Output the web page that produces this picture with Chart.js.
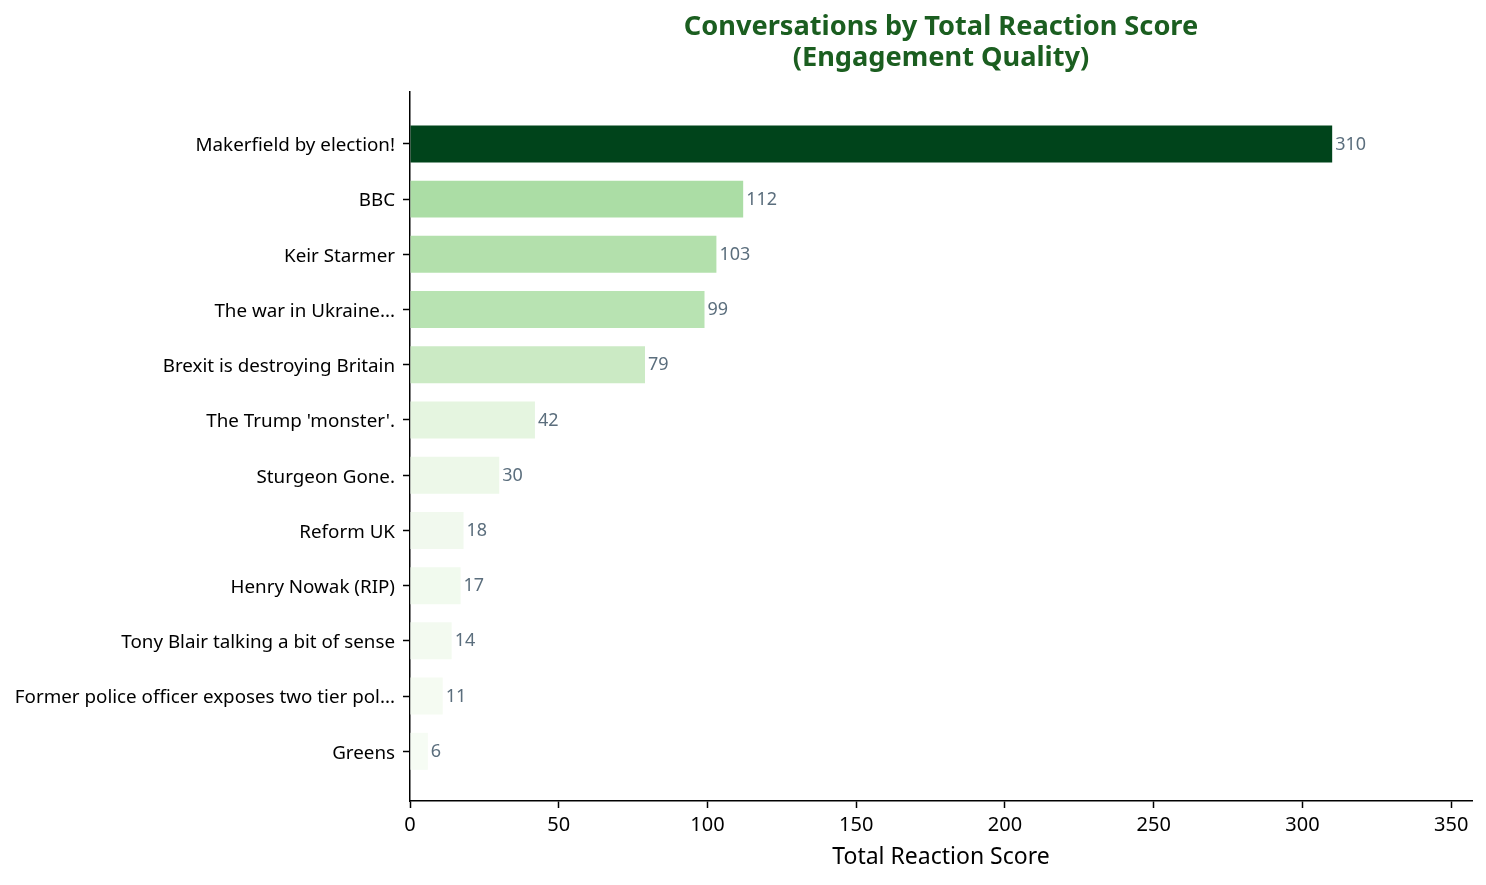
<!DOCTYPE html>
<html>
<head>
<meta charset="utf-8">
<script src="https://cdn.jsdelivr.net/npm/chart.js@4"></script>
<style>
  html, body { margin: 0; padding: 0; background: #fff; }
  #wrap { width: 1486px; height: 885px; }
</style>
</head>
<body>
<div id="wrap"><canvas id="reactionChart" width="1486" height="885"></canvas></div>
<script>
const topics = [
  "Makerfield by election!",
  "BBC",
  "Keir Starmer",
  "The war in Ukraine...",
  "Brexit is destroying Britain",
  "The Trump 'monster'.",
  "Sturgeon Gone.",
  "Reform UK",
  "Henry Nowak (RIP)",
  "Tony Blair talking a bit of sense",
  "Former police officer exposes two tier pol...",
  "Greens",
];
const scores = [310, 112, 103, 99, 79, 42, 30, 18, 17, 14, 11, 6];
const xTicks = [0, 50, 100, 150, 200, 250, 300, 350];
const titleLines = ["Conversations by Total Reaction Score", "(Engagement Quality)"];

const barColors = [
  "#00441b", "#abdda5", "#b3e0ac", "#b8e3b2", "#cbeac4", "#e5f5e0",
  "#edf8e9", "#f1f9ee", "#f1faee", "#f3faf0", "#f5fbf2", "#f6fcf4",
];

const FONT = "'Noto Sans', 'Open Sans', sans-serif";

// numbers at the end of each bar
const valueLabels = {
  id: "valueLabels",
  afterDatasetsDraw(chart) {
    const ctx = chart.ctx;
    const meta = chart.getDatasetMeta(0);
    ctx.save();
    ctx.font = "18px " + FONT;
    ctx.fillStyle = "#5b6e7d";
    ctx.textAlign = "left";
    ctx.textBaseline = "middle";
    meta.data.forEach((bar, i) => {
      ctx.fillText(String(scores[i]), bar.x + 3, bar.y + 0.5);
    });
    ctx.restore();
  },
};

// title centred over the plot area, not the canvas
const plotTitle = {
  id: "plotTitle",
  afterDraw(chart) {
    const { ctx, chartArea } = chart;
    const cx = (chartArea.left + chartArea.right) / 2;
    ctx.save();
    ctx.font = "bold 27.2px " + FONT;
    ctx.fillStyle = "#1b5e20";
    ctx.textAlign = "center";
    ctx.textBaseline = "middle";
    ctx.fillText(titleLines[0], cx, 27.5);
    ctx.fillText(titleLines[1], cx, 58.5);
    ctx.restore();
  },
};

new Chart(document.getElementById("reactionChart"), {
  type: "bar",
  data: {
    datasets: [
      {
        data: scores.map((v, i) => ({ x: v, y: i })),
        backgroundColor: barColors,
        borderWidth: 0,
        barPercentage: 0.67,
        categoryPercentage: 1,
      },
    ],
  },
  plugins: [valueLabels, plotTitle],
  options: {
    indexAxis: "y",
    responsive: false,
    animation: false,
    devicePixelRatio: 1,
    layout: { padding: { left: 0, right: 14, top: 92, bottom: 0 } },
    plugins: {
      legend: { display: false },
      tooltip: { enabled: false },
      title: { display: false },
    },
    scales: {
      x: {
        type: "linear",
        min: 0,
        max: 357,
        afterBuildTicks: (s) => { s.ticks = xTicks.map((v) => ({ value: v })); },
        afterFit: (s) => { s.height = 84; },
        ticks: { color: "#000", font: { family: FONT, size: 20 }, padding: 5 },
        grid: { display: true, drawOnChartArea: false, drawTicks: true, tickLength: 7, color: "#000", tickWidth: 1.5 },
        border: { display: true, color: "#000", width: 1.5 },
        title: {
          display: true,
          text: "Total Reaction Score",
          color: "#000",
          font: { family: FONT, size: 23 },
          padding: { top: 0, bottom: 14 },
        },
      },
      y: {
        type: "linear",
        reverse: true,
        offset: false,
        min: -0.94,
        max: topics.length - 1 + 0.9,
        afterBuildTicks: (s) => { s.ticks = topics.map((t, i) => ({ value: i })); },
        afterFit: (s) => { s.width = 410; },
        ticks: {
          color: "#000",
          font: { family: FONT, size: 18.8 },
          padding: 8,
          labelOffset: 2,
          callback: (v) => topics[v] ?? "",
        },
        grid: { display: true, offset: false, drawOnChartArea: false, drawTicks: true, tickLength: 7, color: "#000", tickWidth: 1.5 },
        border: { display: true, color: "#000", width: 1.5 },
      },
    },
  },
});
</script>
</body>
</html>
